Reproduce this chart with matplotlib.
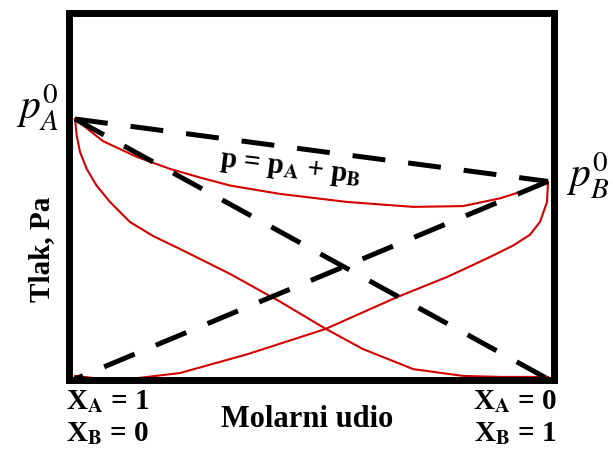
import matplotlib.pyplot as plt

plt.rcParams['mathtext.fontset'] = 'stix'
plt.rcParams['font.family'] = ['Liberation Serif', 'DejaVu Serif']

# x = molar fraction of B, y = pressure (p_A^0 = 100)
pA0 = 100
pB0 = 76

# red curves
pa_x = [0, 0.0036, 0.0106, 0.0247, 0.0459, 0.074, 0.116, 0.165, 0.222, 0.264, 0.328,
        0.433, 0.529, 0.609, 0.715, 0.820, 0.899, 1.0]
pa_y = [100, 93.6, 87.3, 80.8, 74.3, 68.1, 60.4, 55, 50, 46.2, 40.4,
        29.8, 19.4, 11.5, 3.8, 1.2, 0.8, 0.8]

pb_x = [0, 0.053, 0.116, 0.222, 0.364, 0.529, 0.681, 0.786, 0.829, 0.877, 0.926,
        0.962, 0.983, 0.998, 1]
pb_y = [1.2, 0.1, 0, 2.3, 9.5, 19.2, 31.5, 39.2, 42.8, 46.9, 51.3,
        55.5, 60.4, 68.1, 75.8]

p_x = [0, 0.059, 0.131, 0.201, 0.264, 0.328, 0.433, 0.575, 0.715, 0.820, 0.899, 0.947, 1]
p_y = [100, 91.5, 85.4, 80.8, 77.5, 74.4, 71.2, 68.1, 66.2, 66.5, 69.5, 72.3, 75.8]

fig = plt.figure(figsize=(6.13, 4.52), dpi=100)
ax = fig.add_axes([69 / 613, 71 / 452, 485 / 613, 367.5 / 452])

red = '#d40000'
for xs, ys in [(pa_x, pa_y), (pb_x, pb_y), (p_x, p_y)]:
    ax.plot(xs, ys, color=red, lw=1.5, solid_joinstyle='round')

dash = (6.6, 4.6)
ax.plot([0, 1], [pA0, pB0], color='black', lw=3.6, dashes=dash)
ax.plot([0, 1], [pA0, 0], color='black', lw=3.6, dashes=dash)
ax.plot([1, 0], [pB0, 0], color='black', lw=3.6, dashes=dash)

ax.set_xlim(-0.0127, 1.0127)
ax.set_ylim(-0.385, 140.96)
ax.set_xticks([])
ax.set_yticks([])
for s in ax.spines.values():
    s.set_linewidth(5)

ax.text(0.455, 81, r'p = p$_\mathbf{A}$ + p$_\mathbf{B}$', fontsize=21,
        fontweight='bold', rotation=-7, ha='center', va='center')


def fx(px):
    return px / 613


def fy(py):
    return 1 - py / 452


fig.text(fx(37), fy(108), r'$p_A^0$', fontsize=30, ha='center', va='center')
fig.text(fx(588), fy(176), r'$p_B^0$', fontsize=30, ha='center', va='center')
fig.text(fx(42), fy(249), 'Tlak, Pa', fontsize=21, fontweight='bold',
         rotation=90, ha='center', va='center')

fs = 21
fig.text(fx(66), fy(402), r'X$_\mathbf{A}$ = 1', fontsize=fs, fontweight='bold',
         ha='left', va='center')
fig.text(fx(66), fy(434), r'X$_\mathbf{B}$ = 0', fontsize=fs, fontweight='bold',
         ha='left', va='center')
fig.text(fx(557), fy(402), r'X$_\mathbf{A}$ = 0', fontsize=fs, fontweight='bold',
         ha='right', va='center')
fig.text(fx(557), fy(434), r'X$_\mathbf{B}$ = 1', fontsize=fs, fontweight='bold',
         ha='right', va='center')
fig.text(fx(307), fy(420), 'Molarni udio', fontsize=22, fontweight='bold',
         ha='center', va='center')

fig.savefig('out.png', dpi=100)
